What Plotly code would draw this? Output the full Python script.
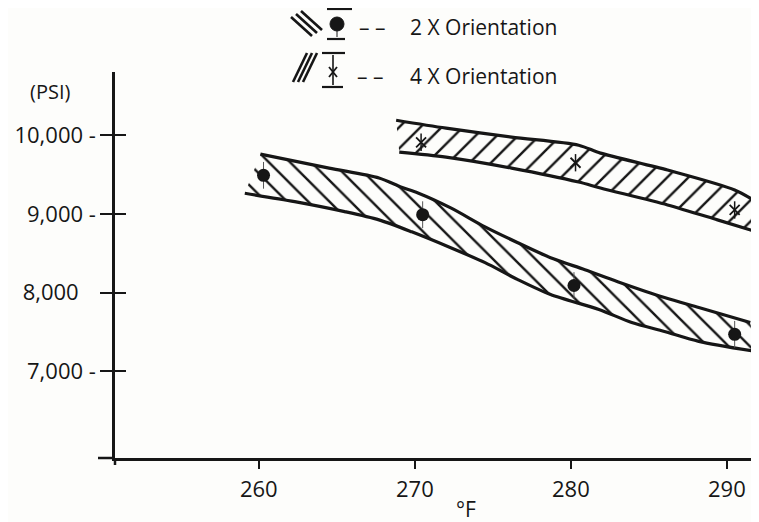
import plotly.graph_objects as go

# ---------------- data ----------------
temp_2x = [260.3, 270.5, 280.2, 290.5]
psi_2x = [9490, 8990, 8090, 7470]

temp_4x = [270.4, 280.3, 290.5]
psi_4x = [9910, 9650, 9050]

band2_upper_t = [260.1, 264.5, 267.7, 269.1, 270.2, 272.3, 274.5, 276.6, 278.7, 280.9, 283.0, 286.0, 288.2, 291.5]
band2_upper_p = [9759, 9582, 9456, 9342, 9266, 9076, 8835, 8633, 8443, 8291, 8139, 7937, 7810, 7620]
band2_lower_t = [259.1, 262.3, 265.5, 267.7, 269.8, 272.3, 274.5, 276.6, 278.7, 281.8, 283.9, 286.0, 288.2, 291.8]
band2_lower_p = [9262, 9156, 9029, 8924, 8772, 8570, 8380, 8165, 7975, 7785, 7620, 7506, 7380, 7253]

band4_upper_t = [268.8, 272.0, 276.2, 280.5, 281.9, 286.2, 290.5, 291.9]
band4_upper_p = [10190, 10089, 9975, 9873, 9772, 9557, 9304, 9152]
band4_lower_t = [269.0, 272.0, 276.2, 280.5, 281.9, 286.2, 289.4, 291.9]
band4_lower_p = [9785, 9722, 9582, 9405, 9329, 9114, 8924, 8772]

x_ticks = [260, 270, 280, 290]
x_tick_text = ["260", "270", "280", "290"]
y_ticks = [7000, 8000, 9000, 10000]
y_tick_text = ["7,000 -", "8,000\u00a0\u00a0\u00a0", "9,000 -", "10,000 -"]

legend_labels = ["2 X Orientation", "4 X Orientation"]
x_title = "°F"
y_title = "(PSI)"

# ---------------- figure ----------------
INK = "#161616"
FONT = "Open Sans"
X_RANGE = [250.78, 292.06]
Y_RANGE = [5898, 10803]

# the page body adds an 8px offset; the figure is laid out to compensate
OFF = 8
FIG_W, FIG_H = 759 - OFF, 522 - OFF
L, T, W, H = 115 - OFF, 72 - OFF, 644, 386

fig = go.Figure()


def band(ut, up, lt, lp, shape):
    fig.add_trace(go.Scatter(
        x=ut + lt[::-1], y=up + lp[::-1], mode="lines", fill="toself",
        line=dict(width=0, color="rgba(0,0,0,0)"),
        fillcolor="rgba(0,0,0,0)",
        fillpattern=dict(shape=shape, fgcolor=INK, fgopacity=1,
                         bgcolor="rgba(0,0,0,0)",
                         size=15, solidity=0.16, fillmode="overlay"),
        hoverinfo="skip", showlegend=False))
    for xs, ys in ((ut, up), (lt, lp)):
        fig.add_trace(go.Scatter(
            x=xs, y=ys, mode="lines",
            line=dict(color=INK, width=3.2, shape="spline", smoothing=0.8),
            hoverinfo="skip", showlegend=False))


band(band2_upper_t, band2_upper_p, band2_lower_t, band2_lower_p, "\\")
band(band4_upper_t, band4_upper_p, band4_lower_t, band4_lower_p, "/")

fig.add_trace(go.Scatter(
    x=temp_2x, y=psi_2x, mode="markers", name=legend_labels[0],
    marker=dict(symbol="circle", size=13, color=INK),
    error_y=dict(type="constant", value=170, thickness=1, width=0, color="#555"),
    showlegend=False))

fig.add_trace(go.Scatter(
    x=temp_4x, y=psi_4x, mode="markers", name=legend_labels[1],
    marker=dict(symbol="x-thin", size=10, line=dict(width=1.8, color=INK)),
    error_y=dict(type="constant", value=110, thickness=1.5, width=0, color=INK),
    showlegend=False))

# carrier for the inner half of the y ticks
fig.add_trace(go.Scatter(x=[None], y=[None], yaxis="y2", showlegend=False,
                         hoverinfo="skip"))


def px(x):
    return (x - OFF - L) / W


def py(y):
    return (T + H - (y - OFF)) / H


shapes = []


def seg(x0, y0, x1, y1, w=2.2, dash=None):
    shapes.append(dict(type="line", xref="paper", yref="paper",
                       x0=px(x0), y0=py(y0), x1=px(x1), y1=py(y1),
                       line=dict(color=INK, width=w, dash=dash)))


# row 1: "\\\" + dot with bars
for d in (0, 5, 10):
    seg(291 + d, 17 - d * 0.6, 312 + d, 36 - d * 0.6, w=2.6)
seg(327, 9, 352, 9)
seg(327, 39, 345, 39)
seg(337, 31, 337, 37, w=1)
shapes.append(dict(type="circle", xref="paper", yref="paper",
                   x0=px(330), y0=py(17), x1=px(344), y1=py(31),
                   fillcolor=INK, line=dict(color=INK, width=1)))
# row 2: "///" + x marker with bars
for d in (0, 5, 10):
    seg(293 + d, 82, 307 + d, 53, w=2.6)
seg(322, 53, 345, 53)
seg(322, 87, 343, 87)
seg(333, 55, 333, 85, w=1.6)
seg(329, 67, 337, 77, w=1.8)
seg(337, 67, 329, 77, w=1.8)
# axis overhangs at the origin
seg(98, 458, 115, 458, w=2.5)
seg(115, 458, 115, 465, w=2.5)

annotations = [
    dict(x=px(357), y=py(27), text="– –", xanchor="left", yanchor="middle"),
    dict(x=px(408), y=py(27), text=legend_labels[0], xanchor="left", yanchor="middle"),
    dict(x=px(355), y=py(76), text="– –", xanchor="left", yanchor="middle"),
    dict(x=px(408), y=py(76), text=legend_labels[1], xanchor="left", yanchor="middle"),
]
for a in annotations:
    a.update(xref="paper", yref="paper", showarrow=False,
             font=dict(family=FONT, size=21, color=INK))
annotations.append(dict(x=px(50), y=py(92), xref="paper", yref="paper",
                        text=y_title, showarrow=False, xanchor="center",
                        yanchor="middle", font=dict(family=FONT, size=20, color=INK)))
annotations.append(dict(x=px(466), y=py(509), xref="paper", yref="paper",
                        text=x_title, showarrow=False, xanchor="center",
                        yanchor="middle", font=dict(family=FONT, size=21, color=INK)))

fig.update_layout(
    width=FIG_W, height=FIG_H,
    margin=dict(l=L, r=FIG_W - L - W, t=T, b=FIG_H - T - H, pad=0),
    paper_bgcolor="#fdfdfb", plot_bgcolor="#fdfdfb",
    font=dict(family=FONT, size=22, color=INK),
    showlegend=False,
    shapes=shapes, annotations=annotations,
    xaxis=dict(range=X_RANGE, tickvals=x_ticks, ticktext=x_tick_text,
               ticks="outside", ticklen=8, tickwidth=2, tickcolor=INK,
               showline=True, linewidth=2.5, linecolor=INK,
               showgrid=False, zeroline=False, ticklabelstandoff=2,
               tickfont=dict(family=FONT, size=22, color=INK)),
    yaxis=dict(range=Y_RANGE, tickvals=y_ticks, ticktext=y_tick_text,
               ticks="outside", ticklen=12, tickwidth=2, tickcolor=INK,
               showline=True, linewidth=2.5, linecolor=INK,
               showgrid=False, zeroline=False,
               tickfont=dict(family=FONT, size=22, color=INK)),
    yaxis2=dict(range=Y_RANGE, overlaying="y", side="left", anchor="x",
                tickvals=y_ticks, ticks="inside", ticklen=11, tickwidth=2,
                tickcolor=INK, showticklabels=False, showline=False,
                showgrid=False, zeroline=False),
)

fig.write_html("out.html")
